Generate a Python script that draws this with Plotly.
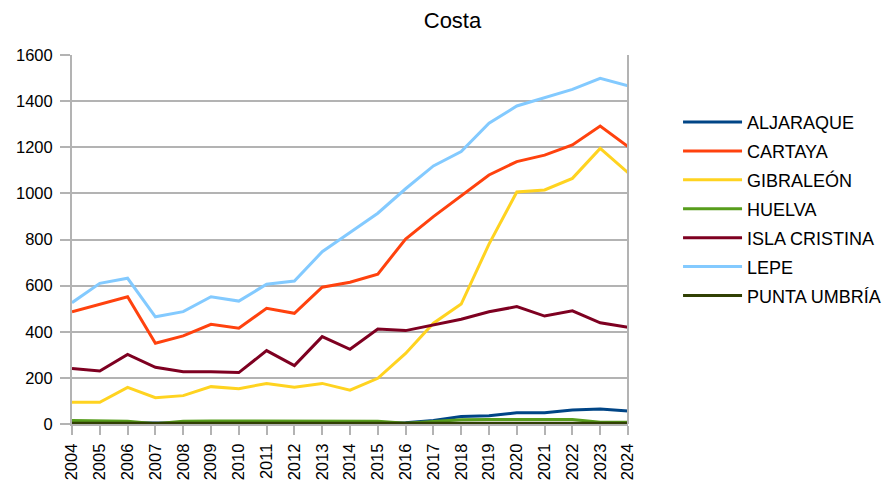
import plotly.graph_objects as go

years = [str(y) for y in range(2004, 2025)]

aljaraque = [5, 4, 4, 2, 3, 3, 3, 3, 4, 4, 4, 4, 5, 15, 32, 36, 49, 49, 61, 65, 56]
cartaya = [487, 520, 552, 350, 382, 432, 415, 502, 480, 593, 615, 650, 802, 899, 990, 1080, 1138, 1166, 1210, 1292, 1203]
gibraleon = [94, 94, 159, 114, 123, 162, 153, 176, 159, 176, 147, 198, 306, 437, 520, 780, 1006, 1015, 1065, 1195, 1090]
huelva = [15, 15, 12, 1, 12, 13, 13, 13, 13, 13, 12, 12, 3, 10, 18, 20, 20, 20, 20, 8, 8]
isla_cristina = [241, 230, 302, 246, 227, 227, 223, 318, 253, 379, 324, 412, 405, 429, 454, 487, 509, 468, 491, 439, 419]
lepe = [526, 610, 632, 465, 487, 552, 533, 606, 620, 747, 830, 914, 1020, 1119, 1181, 1304, 1379, 1415, 1451, 1499, 1466]
punta_umbria = [3, 3, 3, 1, 3, 3, 3, 3, 3, 3, 3, 3, 2, 3, 3, 3, 3, 3, 3, 3, 3]

series = [
    ("ALJARAQUE", aljaraque, "#004586"),
    ("CARTAYA", cartaya, "#ff420e"),
    ("GIBRALEÓN", gibraleon, "#ffd320"),
    ("HUELVA", huelva, "#579d1c"),
    ("ISLA CRISTINA", isla_cristina, "#7e0021"),
    ("LEPE", lepe, "#83caff"),
    ("PUNTA UMBRÍA", punta_umbria, "#314004"),
]

fig = go.Figure()
for i, (name, vals, col) in enumerate(series):
    fig.add_trace(go.Scatter(x=years, y=vals, name=name, mode="lines",
                             legendgroup="g%d" % i,
                             line=dict(color=col, width=3)))

font = "Liberation Sans, Arial, sans-serif"
fig.update_layout(
    width=889, height=485,
    margin=dict(l=72, r=261, t=55, b=61, autoexpand=False),
    paper_bgcolor="white", plot_bgcolor="white",
    font=dict(family=font, size=16, color="#000000"),
    title=dict(text="Costa", x=0.509, xanchor="center", y=0.958, yanchor="middle",
               font=dict(family=font, size=22, color="#000000")),
    showlegend=True,
    legend=dict(x=1.09, xanchor="left", y=0.583, yanchor="middle",
                font=dict(family=font, size=18, color="#000000"),
                tracegroupgap=2.5, itemwidth=59),
    xaxis=dict(type="category", range=[0, 20], tickangle=-90, automargin=False,
               showgrid=False, showline=True, linecolor="#b3b3b3", linewidth=2,
               ticks="outside", ticklen=9, tickcolor="#b3b3b3", tickwidth=1.5,
               ticklabelstandoff=2,
               tickfont=dict(family=font, size=16.5, color="#000000"),
               mirror=False, zeroline=False),
    yaxis=dict(range=[0, 1600], dtick=200, showgrid=True, gridcolor="#b3b3b3", gridwidth=1.5,
               showline=True, linecolor="#b3b3b3", linewidth=2, automargin=False,
               ticks="outside", ticklen=10, tickcolor="#b3b3b3", tickwidth=1.5,
               ticklabelstandoff=4,
               tickfont=dict(family=font, size=16.5, color="#000000"),
               zeroline=False),
)
fig.add_shape(type="line", xref="paper", yref="paper", x0=1, x1=1, y0=0, y1=1,
              line=dict(color="#b3b3b3", width=2))

fig.write_html("out.html")
